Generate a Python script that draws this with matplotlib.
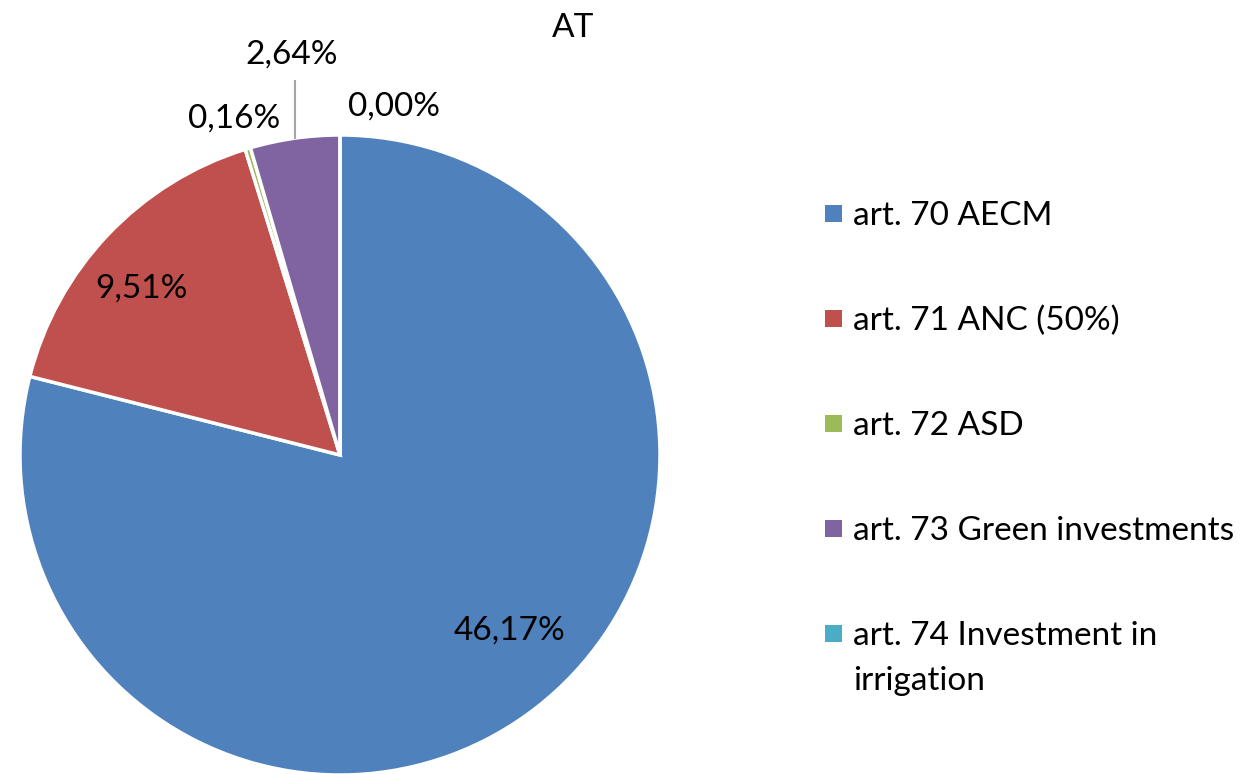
import numpy as np
import matplotlib
matplotlib.use("Agg")
import matplotlib.pyplot as plt
from matplotlib.patches import Rectangle

plt.rcParams['font.family'] = ['Lato', 'DejaVu Sans']

title = "AT"
categories = ["art. 70 AECM", "art. 71 ANC (50%)", "art. 72 ASD",
              "art. 73 Green investments", "art. 74 Investment in\nirrigation"]
values = [46.17, 9.51, 0.16, 2.64, 0.00]
value_labels = ["46,17%", "9,51%", "0,16%", "2,64%", "0,00%"]
colors = ["#4F81BD", "#C0504D", "#9BBB59", "#8064A2", "#4BACC6"]

W, H = 1253, 774
fig = plt.figure(figsize=(W / 100, H / 100), dpi=100)
cx, cy, r = 340, 455, 320
ax = fig.add_axes([(cx - r) / W, (H - cy - r) / H, 2 * r / W, 2 * r / H])
wedges, _ = ax.pie(values, colors=colors, startangle=90, counterclock=False,
                   wedgeprops=dict(edgecolor="white", linewidth=2.5))
ax.set_xlim(-1, 1)
ax.set_ylim(-1, 1)
ax.set_aspect('auto')
ax.axis('off')

fs = 24
# label placements (data units relative to pie centre)
label_pos = [(0.53, -0.55), (-0.62, 0.52), (-0.33, 1.05), (-0.15, 1.25), (0.17, 1.09)]
for i, (lab, (x, y)) in enumerate(zip(value_labels, label_pos)):
    ax.text(x, y, lab, ha='center', va='center', fontsize=fs, clip_on=False)

# leader line for the purple slice
w = wedges[3]
mid = np.deg2rad((w.theta1 + w.theta2) / 2)
lx = np.cos(mid)
ax.plot([lx, lx], [np.sin(mid), 1.17], color="#A6A6A6", lw=1.5, clip_on=False)

fig.text(573 / W, 1 - 28 / H, title, ha='center', va='center', fontsize=fs)

# legend
base_y = 225
step = 105
line_gap = 45
for i, (lab, col) in enumerate(zip(categories, colors)):
    y = base_y + i * step
    fig.patches.append(Rectangle((825 / W, 1 - (y - 3) / H), 17 / W, 17 / H,
                                 transform=fig.transFigure, facecolor=col,
                                 edgecolor='none'))
    for k, line in enumerate(lab.split("\n")):
        fig.text(853 / W, 1 - (y + k * line_gap) / H, line, ha='left',
                 va='baseline', fontsize=fs)

fig.savefig("out.png", dpi=100)
